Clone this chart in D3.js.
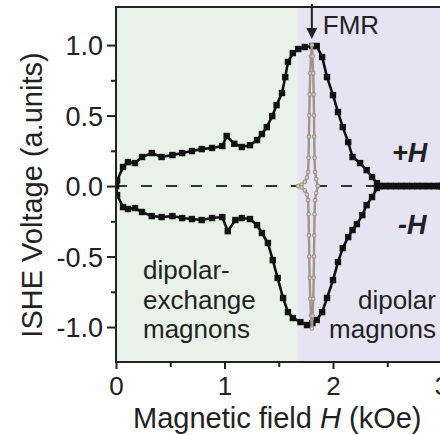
<!DOCTYPE html>
<html><head><meta charset="utf-8">
<script src="https://cdn.jsdelivr.net/npm/d3@7"></script>
<style>body{margin:0;background:#fff}svg{display:block}text{font-family:"Liberation Sans",Arial,sans-serif;fill:#222}</style>
</head><body><svg id="c" width="440" height="435"></svg>
<script>
// ---- data ----
const xTicks = [0, 1, 2, 3];
const yTicks = [-1.0, -0.5, 0.0, 0.5, 1.0];
const xMinor = [0.5, 1.5, 2.5];
const yMinor = [-0.75, -0.25, 0.25, 0.75];
const regionBoundary = 1.67;
const fmrField = 1.805;

const posH = [0,0.01,0.065,0.11,0.175,0.24,0.33,0.42,0.52,0.61,0.70,0.79,0.885,0.98,1.02,1.09,1.16,1.235,1.30,1.345,1.39,1.44,1.48,1.53,1.56,1.585,1.63,1.68,1.74,1.81,1.85,1.90,1.945,2.00,2.046,2.09,2.14,2.18,2.25,2.31,2.36,2.405,2.43,2.48,2.53,2.58,2.63,2.68,2.73,2.78,2.83,2.88,2.93,2.98,3.0];
const posV = [0,0.04,0.135,0.17,0.163,0.206,0.234,0.206,0.22,0.234,0.248,0.262,0.27,0.284,0.355,0.30,0.277,0.29,0.326,0.369,0.418,0.496,0.574,0.66,0.773,0.88,0.943,0.972,0.986,0.993,0.993,0.915,0.773,0.645,0.525,0.418,0.312,0.206,0.163,0.113,0.064,0.02,0,0,0,0,0,0,0,0,0,0,0,0,0];

const negH = [0,0.01,0.065,0.11,0.175,0.24,0.33,0.42,0.52,0.61,0.70,0.79,0.885,0.98,1.03,1.10,1.16,1.235,1.30,1.345,1.40,1.445,1.49,1.54,1.585,1.63,1.70,1.76,1.81,1.85,1.90,1.945,2.00,2.046,2.09,2.14,2.18,2.22,2.27,2.31,2.36,2.405,2.43,2.48,2.53,2.58,2.63,2.68,2.73,2.78,2.83,2.88,2.93,2.98,3.0];
const negV = [0,-0.064,-0.149,-0.163,-0.156,-0.184,-0.213,-0.22,-0.213,-0.227,-0.234,-0.241,-0.227,-0.22,-0.32,-0.241,-0.227,-0.234,-0.277,-0.333,-0.404,-0.525,-0.652,-0.794,-0.894,-0.936,-0.965,-0.986,-0.972,-0.95,-0.894,-0.794,-0.667,-0.539,-0.44,-0.362,-0.312,-0.27,-0.206,-0.135,-0.078,-0.014,0,0,0,0,0,0,0,0,0,0,0,0,0];

const fmrPosH = [1.68,1.71,1.74,1.76,1.77,1.775,1.778,1.781,1.785,1.79,1.797,1.805,1.812,1.818,1.822,1.825,1.827,1.83,1.835,1.845,1.86];
const fmrPosV = [0.00,0.01,0.03,0.06,0.10,0.20,0.35,0.50,0.65,0.80,0.92,1.00,0.92,0.80,0.65,0.50,0.35,0.20,0.10,0.05,0.00];
const fmrNegH = [1.68,1.71,1.74,1.76,1.77,1.775,1.778,1.781,1.785,1.79,1.797,1.805,1.812,1.818,1.822,1.825,1.827,1.83,1.835,1.845,1.86];
const fmrNegV = [0.00,-0.01,-0.03,-0.06,-0.10,-0.20,-0.35,-0.50,-0.65,-0.80,-0.92,-1.01,-0.92,-0.80,-0.65,-0.50,-0.35,-0.20,-0.10,-0.05,0.00];

// ---- chart ----
const svg = d3.select("#c");
const x = d3.scaleLinear().domain([0, 3]).range([116, 441.5]);
const y = d3.scaleLinear().domain([-1.248, 1.27]).range([362, 7]);
const X0 = x(0), X1 = x(3), Y0 = y(-1.248), Y1 = y(1.27);

svg.append("defs").append("clipPath").attr("id","clip")
  .append("rect").attr("x",X0).attr("y",Y1).attr("width",X1-X0).attr("height",Y0-Y1);

svg.append("rect").attr("x",X0).attr("y",Y1).attr("width",x(regionBoundary)-X0).attr("height",Y0-Y1).attr("fill","#e8f2e8");
svg.append("rect").attr("x",x(regionBoundary)).attr("y",Y1).attr("width",X1-x(regionBoundary)).attr("height",Y0-Y1).attr("fill","#e6e4f3");

const g = svg.append("g").attr("clip-path","url(#clip)");
g.append("line").attr("x1",X0).attr("x2",x(2.43)).attr("y1",y(0)).attr("y2",y(0))
  .attr("stroke","#333").attr("stroke-width",2).attr("stroke-dasharray","11,14");

const line = d3.line().x(d=>x(d[0])).y(d=>y(d[1]));
function drawFmr(H,V){
  const pts = H.map((h,i)=>[h,V[i]]);
  g.append("path").attr("d",line(pts)).attr("fill","none").attr("stroke","#a09488").attr("stroke-width",2.4);
  g.selectAll(null).data(pts).enter().append("circle").attr("cx",d=>x(d[0])).attr("cy",d=>y(d[1])).attr("r",1.8)
    .attr("fill","#d8d0c8").attr("stroke","#a09488").attr("stroke-width",1.1);
}
function drawBlack(H,V){
  const pts = H.map((h,i)=>[h,V[i]]);
  g.append("path").attr("d",line(pts)).attr("fill","none").attr("stroke","#111").attr("stroke-width",2.6);
  g.selectAll(null).data(pts).enter().append("rect").attr("x",d=>x(d[0])-3.2).attr("y",d=>y(d[1])-3.2)
    .attr("width",6.4).attr("height",6.4).attr("fill","#111");
}
drawBlack(posH,posV);
drawBlack(negH,negV);
g.append("line").attr("x1",x(2.43)).attr("x2",X1).attr("y1",y(0)).attr("y2",y(0)).attr("stroke","#111").attr("stroke-width",6);
drawFmr(fmrPosH,fmrPosV);
drawFmr(fmrNegH,fmrNegV);

// axes frame
svg.append("line").attr("x1",X0).attr("x2",X0).attr("y1",Y1-1).attr("y2",Y0+1).attr("stroke","#222").attr("stroke-width",2);
svg.append("line").attr("x1",X0-1).attr("x2",X1).attr("y1",Y0).attr("y2",Y0).attr("stroke","#222").attr("stroke-width",2);
svg.append("line").attr("x1",X0-1).attr("x2",X1).attr("y1",Y1).attr("y2",Y1).attr("stroke","#222").attr("stroke-width",2);

const fmtY = d => d3.format(".1f")(d).replace("\u2212","-");
const ya = svg.append("g").attr("transform",`translate(${X0},0)`)
  .call(d3.axisLeft(y).tickValues(yTicks).tickSize(9).tickPadding(4).tickFormat(fmtY));
ya.select(".domain").remove();
ya.selectAll(".tick line").attr("stroke","#222").attr("stroke-width",2);
ya.selectAll(".tick text").attr("font-size",27).attr("font-family","Liberation Sans, Arial, sans-serif").attr("fill","#222").attr("dy","0.36em");
const ym = svg.append("g").attr("transform",`translate(${X0},0)`)
  .call(d3.axisLeft(y).tickValues(yMinor).tickSize(5).tickFormat(""));
ym.select(".domain").remove();
ym.selectAll(".tick line").attr("stroke","#222").attr("stroke-width",2);

const xa = svg.append("g").attr("transform",`translate(0,${Y0})`)
  .call(d3.axisBottom(x).tickValues(xTicks).tickSize(7).tickPadding(8).tickFormat(d3.format("d")));
xa.select(".domain").remove();
xa.selectAll(".tick line").attr("stroke","#222").attr("stroke-width",2);
xa.selectAll(".tick text").attr("font-size",26).attr("font-family","Liberation Sans, Arial, sans-serif").attr("fill","#222");
const xm = svg.append("g").attr("transform",`translate(0,${Y0})`)
  .call(d3.axisBottom(x).tickValues(xMinor).tickSize(5).tickFormat(""));
xm.select(".domain").remove();
xm.selectAll(".tick line").attr("stroke","#222").attr("stroke-width",2);

const xl = svg.append("text").attr("x",133).attr("y",428).attr("font-size",29);
xl.append("tspan").text("Magnetic field ");
xl.append("tspan").attr("font-style","italic").text("H");
xl.append("tspan").text(" (kOe)");

svg.append("text").attr("transform","translate(42,195) rotate(-90)").attr("text-anchor","middle")
  .attr("font-size",29).text("ISHE Voltage (a.units)");

const fx = x(fmrField);
svg.append("line").attr("x1",fx).attr("x2",fx).attr("y1",4).attr("y2",30).attr("stroke","#222").attr("stroke-width",2);
svg.append("path").attr("d",`M${fx-5.5},28 L${fx+5.5},28 L${fx},39 Z`).attr("fill","#222");
svg.append("text").attr("x",fx+11).attr("y",34).attr("font-size",26).text("FMR");

svg.append("text").attr("x",392).attr("y",162).attr("font-size",27).attr("font-weight","bold").attr("font-style","italic").text("+H");
svg.append("text").attr("x",398).attr("y",234).attr("font-size",27).attr("font-weight","bold").attr("font-style","italic").text("-H");

const lt = svg.append("text").attr("font-size",26);
[["dipolar-",279],["exchange",309],["magnons",338]].forEach(([t,yy])=>lt.append("tspan").attr("x",143).attr("y",yy).text(t));
const rt = svg.append("text").attr("font-size",26).attr("text-anchor","end");
[["dipolar",309],["magnons",338]].forEach(([t,yy])=>rt.append("tspan").attr("x",436).attr("y",yy).text(t));
</script></body></html>
